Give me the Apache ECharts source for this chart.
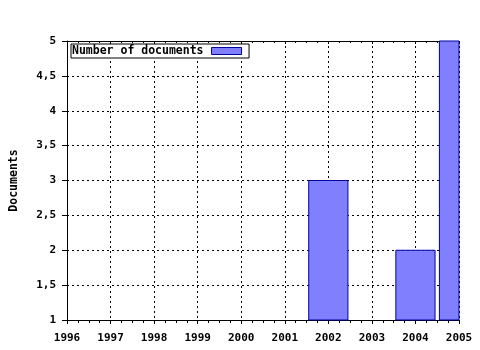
<!DOCTYPE html>
<html><head><meta charset="utf-8">
<script src="https://cdn.jsdelivr.net/npm/echarts@6/dist/echarts.min.js"></script>
<style>html,body{margin:0;padding:0;background:#fff}#c{width:480px;height:350px}</style>
</head><body><div id="c"></div>
<script>
const years = [2002, 2004, 2005];
const counts = [3, 2, 5];
const seriesName = 'Number of documents';
const yAxisName = 'Documents';
const xMin = 1996, xMax = 2005;
const yMin = 1, yMax = 5, yStep = 0.5;

const font = 'DejaVu Sans Mono';
const data = years.map((y, i) => [y, counts[i]]);
const chart = echarts.init(document.getElementById('c'), null, {renderer: 'canvas'});
const dotted = {color: '#000', width: 1, type: [2, 3]};

function renderBar(params, api) {
  const x = api.value(0), y = api.value(1);
  const top = api.coord([x, y]);
  const base = api.coord([x, yMin]);
  const w = api.size([1, 0])[0] * 0.9;
  const cs = params.coordSys;
  const rect = echarts.graphic.clipRectByRect(
    {x: top[0] - w / 2, y: top[1], width: w, height: base[1] - top[1]},
    {x: cs.x, y: cs.y, width: cs.width, height: cs.height});
  if (!rect) return;
  return {type: 'rect', shape: rect, style: api.style({fill: '#8080ff', stroke: '#0000a0', lineWidth: 1})};
}

chart.setOption({
  animation: false,
  backgroundColor: '#fff',
  grid: {left: 65, right: 21, top: 41, bottom: 30},
  legend: {
    left: 71, top: 44,
    data: [seriesName],
    align: 'right',
    backgroundColor: '#fff',
    borderColor: '#000', borderWidth: 1, borderRadius: 0,
    padding: [1, 7, 1, 1],
    itemWidth: 30, itemHeight: 7,
    icon: 'rect',
    itemStyle: {color: '#8080ff', borderColor: '#0000a0', borderWidth: 1},
    textStyle: {fontFamily: font, fontWeight: 'bold', fontSize: 11.5, color: '#000', padding: [0, 3, 0, 0]}
  },
  xAxis: [{
    type: 'value', min: xMin, max: xMax, interval: 1,
    axisLine: {show: true, lineStyle: {color: '#000', width: 1}},
    axisTick: {show: true, length: 4, lineStyle: {color: '#000'}},
    minorTick: {show: true, splitNumber: 4, length: 3, lineStyle: {color: '#000'}},
    axisLabel: {fontFamily: font, fontWeight: 'bold', fontSize: 11, color: '#000', margin: 13, formatter: v => String(v)},
    splitLine: {show: true, lineStyle: dotted}
  }, {
    type: 'value', position: 'top', min: xMin, max: xMax, interval: 1,
    axisLine: {show: true, onZero: false, lineStyle: {color: '#000', width: 1}},
    axisTick: {show: true, inside: true, length: 3, lineStyle: {color: '#000'}},
    minorTick: {show: true, splitNumber: 4, length: 2, lineStyle: {color: '#000'}},
    axisLabel: {show: false},
    splitLine: {show: false}
  }],
  yAxis: {
    type: 'value', min: yMin, max: yMax, interval: yStep,
    name: yAxisName, nameLocation: 'middle', nameGap: 47,
    nameTextStyle: {fontFamily: font, fontWeight: 'bold', fontSize: 11.5, color: '#000'},
    axisLine: {show: true, lineStyle: {color: '#000', width: 1}},
    axisTick: {show: true, length: 5, lineStyle: {color: '#000'}},
    axisLabel: {fontFamily: font, fontWeight: 'bold', fontSize: 11, color: '#000', margin: 11,
      formatter: v => String(v).replace('.', ',')},
    splitLine: {show: true, lineStyle: dotted}
  },
  series: [{
    name: seriesName, type: 'custom', xAxisIndex: 0, yAxisIndex: 0,
    renderItem: renderBar,
    encode: {x: 0, y: 1},
    data: data,
    itemStyle: {color: '#8080ff', borderColor: '#0000a0', borderWidth: 1}
  }]
});
</script></body></html>
